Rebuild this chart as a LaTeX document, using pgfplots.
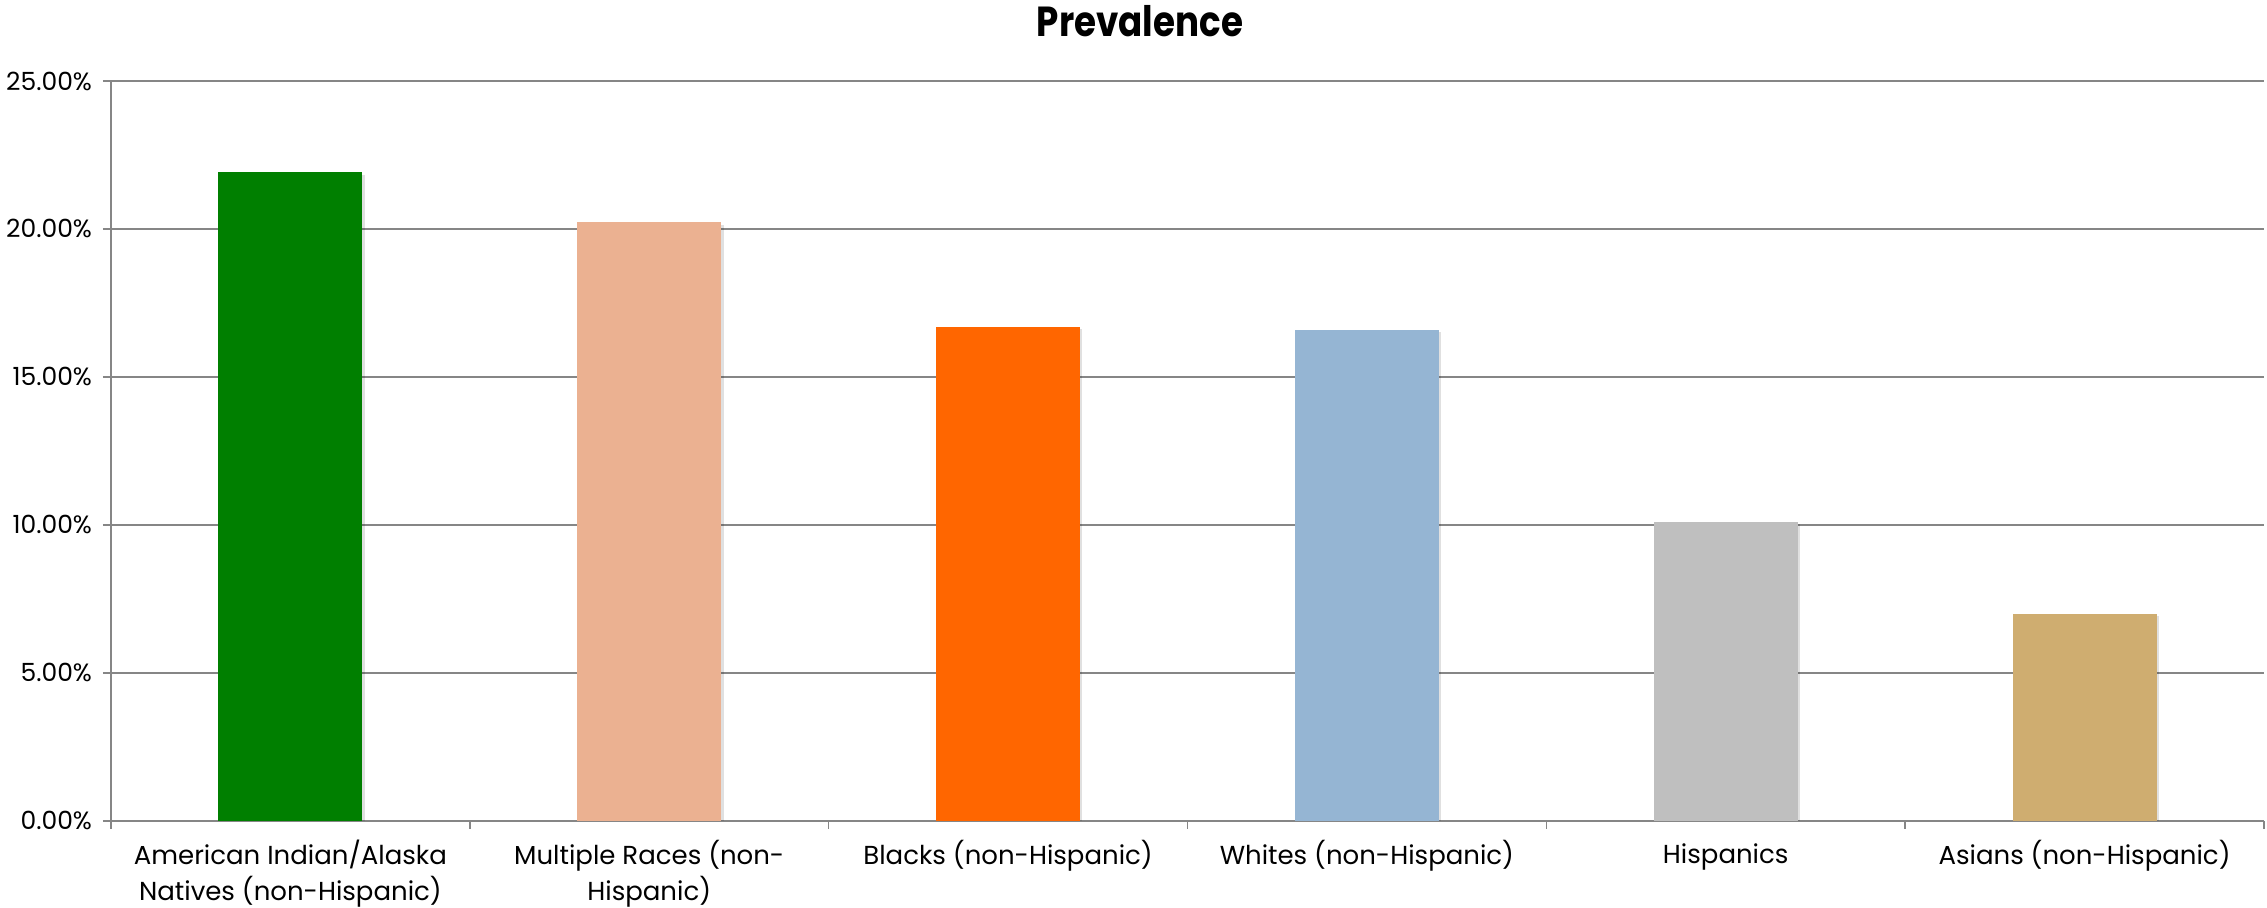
\documentclass[border=0pt]{standalone}
\usepackage{fontspec}
\setmainfont{Poppins}
\newfontfamily\titfont[FakeStretch=0.85]{Poppins}
\usepackage{pgfplots}
\pgfplotsset{compat=1.18}
\definecolor{cgreen}{RGB}{0,127,0}
\definecolor{cpeach}{RGB}{235,177,145}
\definecolor{corange}{RGB}{255,102,0}
\definecolor{cblue}{RGB}{149,181,211}
\definecolor{cgray}{RGB}{191,191,191}
\definecolor{ctan}{RGB}{207,173,112}
\definecolor{gridc}{RGB}{134,134,134}
\begin{document}
\begin{tikzpicture}
\useasboundingbox (0,0) rectangle (1133.5pt,453.5pt);
\begin{axis}[
  at={(55.5pt,43.15pt)}, anchor=south west,
  scale only axis, width=1076.5pt, height=369.85pt,
  xmin=-0.5, xmax=5.5, ymin=0, ymax=25,
  axis lines*=left,
  axis line style={gridc, line width=1pt},
  ymajorgrids, grid style={gridc, line width=1pt},
  ytick={0,5,...,25},
  /pgf/number format/assume math mode=true,
  yticklabel={\pgfmathprintnumber[fixed,fixed zerofill,precision=2]{\tick}\%},
  yticklabel style={font=\fontsize{12.5}{15}\selectfont, xshift=-2pt},
  xtick={-0.5,0.5,...,5.5},
  x tick label as interval,
  xticklabels={{\strut American Indian/Alaska\\Natives (non-Hispanic)},{\strut Multiple Races (non-\\Hispanic)},{\strut Blacks (non-Hispanic)},{\strut Whites (non-Hispanic)},{\strut Hispanics},{\strut Asians (non-Hispanic)}},
  xticklabel style={font=\fontsize{13}{17}\selectfont, align=center, anchor=north, yshift=-2pt},
  tick style={gridc, line width=0.8pt},
  tick align=outside,
  major tick length=4pt,
  ybar, bar width=72pt,
  every axis plot/.append style={bar shift=0pt, draw=none,
    preaction={fill=black, opacity=0.12, transform canvas={xshift=1.2pt, yshift=-1.2pt}}},
]
\addplot[fill=cgreen] coordinates {(0,21.91)};
\addplot[fill=cpeach] coordinates {(1,20.22)};
\addplot[fill=corange] coordinates {(2,16.70)};
\addplot[fill=cblue] coordinates {(3,16.60)};
\addplot[fill=cgray] coordinates {(4,10.10)};
\addplot[fill=ctan] coordinates {(5,6.99)};
\end{axis}
\node[font=\titfont\bfseries\fontsize{21}{25}\selectfont, anchor=base] at (570pt,435pt) {Prevalence};
\end{tikzpicture}
\end{document}
